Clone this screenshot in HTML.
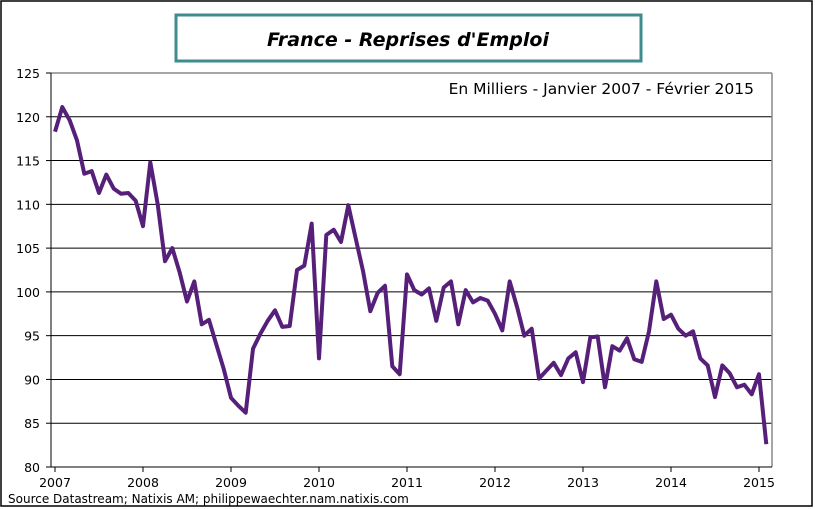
<!DOCTYPE html>
<html><head><meta charset="utf-8"><style>
body{margin:0;background:#fff;}
svg{display:block;font-family:"DejaVu Sans",Verdana,sans-serif;}
</style></head><body>
<svg id="s" width="815" height="509" viewBox="0 0 815 509">
<rect x="1" y="1" width="811" height="505" fill="#fff" stroke="#000" stroke-width="1.5"/>
<rect x="176" y="15" width="465" height="46" fill="#fff" stroke="#3e8c8c" stroke-width="3"/>
<text x="408" y="46" text-anchor="middle" font-size="19" font-weight="bold" font-style="italic">France - Reprises d'Emploi</text>
<g id="grid"></g>
<line x1="51" y1="73" x2="772" y2="73" stroke="#888" stroke-width="1.5"/>
<line x1="772" y1="73" x2="772" y2="467" stroke="#888" stroke-width="1.5"/>
<line x1="51" y1="73" x2="51" y2="467" stroke="#000"/>
<line x1="51" y1="467" x2="772" y2="467" stroke="#000"/>
<rect x="415" y="76" width="345" height="24" fill="#fff"/>
<text x="754" y="94" text-anchor="end" font-size="15.5">En Milliers  - Janvier 2007 - Février 2015</text>
<polyline id="pl" fill="none" stroke="#56207a" stroke-width="4" stroke-linejoin="round"/>
<text x="8" y="503" font-size="12">Source Datastream; Natixis AM; philippewaechter.nam.natixis.com</text>
</svg>
<script>
var d=[118.3,121.1,119.6,117.3,113.5,113.8,111.3,113.4,111.8,111.2,111.3,110.4,
107.5,114.8,110.0,103.5,105.0,102.2,98.9,101.2,96.3,96.8,94.0,91.2,
87.9,87.0,86.2,93.5,95.2,96.7,97.9,96.0,96.1,102.5,103.0,107.8,
92.4,106.5,107.1,105.7,109.9,106.1,102.4,97.8,99.9,100.7,91.5,90.6,
102.0,100.2,99.7,100.4,96.7,100.5,101.2,96.3,100.2,98.8,99.3,99.0,
97.5,95.6,101.2,98.3,95.0,95.8,90.1,91.0,91.9,90.5,92.4,93.1,
89.7,94.8,94.9,89.1,93.8,93.3,94.7,92.3,92.0,95.5,101.2,96.9,
97.4,95.8,95.0,95.5,92.4,91.6,88.0,91.6,90.7,89.1,89.4,88.3,90.6,82.6];
function Y(v){return 467-(v-80)*394/45;}
var yr=88,x0=55;
document.getElementById('pl').setAttribute('points',d.map(function(v,i){return (x0+i*yr/12).toFixed(1)+','+Y(v).toFixed(1)}).join(' '));
var g=document.getElementById('grid'),h='';
for(var v=80;v<=125;v+=5){var y=Y(v);
 if(v>80&&v<125)h+='<line x1="51" y1="'+y+'" x2="772" y2="'+y+'" stroke="#000" stroke-width="1"/>';
 h+='<line x1="46" y1="'+y+'" x2="51" y2="'+y+'" stroke="#000"/>';
 h+='<text x="40" y="'+(y+5)+'" text-anchor="end" font-size="12.5">'+v+'</text>';}
for(var k=0;k<=8;k++){var x=x0+k*yr;
 h+='<line x1="'+x+'" y1="467" x2="'+x+'" y2="472" stroke="#000"/>';
 h+='<text x="'+x+'" y="487" text-anchor="middle" font-size="12.5">'+(2007+k)+'</text>';}
g.innerHTML=h;
</script>
</body></html>
